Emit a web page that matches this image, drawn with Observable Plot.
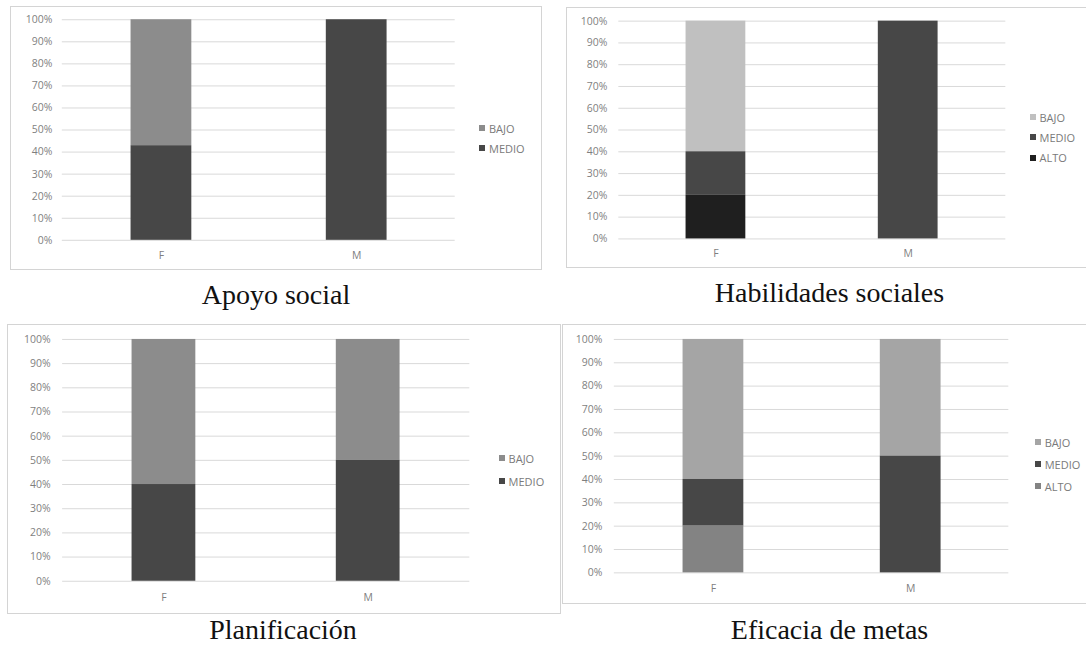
<!DOCTYPE html>
<html>
<head>
<meta charset="utf-8">
<script src="https://cdn.jsdelivr.net/npm/d3@7"></script>
<script src="https://cdn.jsdelivr.net/npm/@observablehq/plot@0.6"></script>
<style>
  html, body { margin: 0; padding: 0; background: #fff; }
  #page { position: relative; width: 1086px; height: 648px; overflow: hidden; background: #fff; }
  .panel { position: absolute; border: 1px solid #d4d4d4; box-sizing: border-box; background: #fff; overflow: visible; }
  .panel svg { position: absolute; left: -1px; top: -1px; overflow: visible; }
  .legend { position: absolute; font-family: "Open Sans", sans-serif; font-size: 11px; color: #7a7a7a; }
  .legend .item { display: flex; align-items: center; height: 14px; white-space: nowrap; }
  .legend .sw { width: 6px; height: 6px; margin-right: 4px; flex: none; }
  .title { position: absolute; width: 400px; text-align: center; font-family: "Liberation Serif", "DejaVu Serif", serif;
           font-size: 28px; line-height: 28px; color: #111; white-space: nowrap; }
</style>
</head>
<body>
<div id="page"></div>
<script>
// Sexo (categorías del eje x) y niveles de cada dimensión
const sexos = ["F", "M"];
const niveles = ["BAJO", "MEDIO", "ALTO"];
const ticksY = [0, 10, 20, 30, 40, 50, 60, 70, 80, 90, 100];

// Porcentajes por nivel, en el orden BAJO, MEDIO, ALTO
const apoyoSocialF = [57.1, 42.9, 0];
const apoyoSocialM = [0, 100, 0];
const habilidadesF = [60, 20, 20];
const habilidadesM = [0, 100, 0];
const planificacionF = [60, 40, 0];
const planificacionM = [50, 50, 0];
const eficaciaF = [60, 20, 20];
const eficaciaM = [50, 50, 0];

const titulos = ["Apoyo social", "Habilidades sociales", "Planificación", "Eficacia de metas"];
const leyendas = [["BAJO", "MEDIO"], ["BAJO", "MEDIO", "ALTO"], ["BAJO", "MEDIO"], ["BAJO", "MEDIO", "ALTO"]];

// Disposición y estilo de cada gráfico
const paneles = [
  { F: apoyoSocialF, M: apoyoSocialM, colores: ["#8c8c8c", "#474747", "#1f1f1f"],
    box: [10, 6, 532, 264], margin: [13.3, 85.6, 29.3, 52], pad: [0.688, 0.347], tickPadY: 10, tickPadX: 11,
    legend: [479, 128, 20], titleX: 276, titleTop: 281 },
  { F: habilidadesF, M: habilidadesM, colores: ["#c0c0c0", "#474747", "#1f1f1f"],
    box: [566, 7, 530, 261], margin: [13.7, 89, 28.7, 52.5], pad: [0.691, 0.347], tickPadY: 11.5, tickPadX: 11,
    legend: [1029.5, 117, 20.3], titleX: 829.5, titleTop: 279 },
  { F: planificacionF, M: planificacionM, colores: ["#8c8c8c", "#474747", "#1f1f1f"],
    box: [7, 324, 554, 290], margin: [15, 90, 32.3, 55.3], pad: [0.687, 0.34], tickPadY: 12, tickPadX: 12,
    legend: [498.6, 458, 23], titleX: 283, titleTop: 616 },
  { F: eficaciaF, M: eficaciaM, colores: ["#a5a5a5", "#474747", "#838383"],
    box: [562, 324, 534, 280], margin: [15, 86, 30.7, 52], pad: [0.693, 0.343], tickPadY: 12, tickPadX: 12,
    legend: [1034.7, 442, 22], titleX: 829.5, titleTop: 616 }
];

const page = document.getElementById("page");

paneles.forEach((p, k) => {
  // filas apiladas: sexo × nivel
  const filas = [];
  sexos.forEach(s => {
    p[s].forEach((v, i) => { if (v > 0) filas.push({ sexo: s, nivel: niveles[i], pct: v }); });
  });

  const [left, top, w, h] = p.box;
  const panel = document.createElement("div");
  panel.className = "panel";
  Object.assign(panel.style, { left: left + "px", top: top + "px", width: w + "px", height: h + "px" });

  const chart = Plot.plot({
    width: w,
    height: h,
    marginTop: p.margin[0],
    marginRight: p.margin[1],
    marginBottom: p.margin[2],
    marginLeft: p.margin[3],
    style: { fontFamily: "'Open Sans', sans-serif", fontSize: "10.5px", color: "#7f7f7f", background: "transparent" },
    x: { domain: sexos, paddingInner: p.pad[0], paddingOuter: p.pad[1], label: null },
    y: { domain: [0, 100], label: null },
    color: { domain: niveles, range: p.colores },
    marks: [
      Plot.ruleY(ticksY, { stroke: "#d9d9d9", strokeWidth: 1 }),
      Plot.barY(filas, { x: "sexo", y: "pct", fill: "nivel", order: ["ALTO", "MEDIO", "BAJO"] }),
      Plot.axisY(ticksY, { tickSize: 0, tickPadding: p.tickPadY, tickFormat: d => d + "%", label: null }),
      Plot.axisX({ tickSize: 0, tickPadding: p.tickPadX, label: null })
    ]
  });
  panel.appendChild(chart);
  page.appendChild(panel);

  // leyenda
  const [lx, ly, step] = p.legend;
  leyendas[k].forEach((nv, j) => {
    const lg = document.createElement("div");
    lg.className = "legend";
    Object.assign(lg.style, { left: lx + "px", top: (ly + j * step - 7) + "px" });
    const item = document.createElement("div");
    item.className = "item";
    const sw = document.createElement("span");
    sw.className = "sw";
    sw.style.background = p.colores[niveles.indexOf(nv)];
    const tx = document.createElement("span");
    tx.textContent = nv;
    item.appendChild(sw);
    item.appendChild(tx);
    lg.appendChild(item);
    page.appendChild(lg);
  });

  // título bajo cada gráfico
  const t = document.createElement("div");
  t.className = "title";
  t.textContent = titulos[k];
  Object.assign(t.style, { left: (p.titleX - 200) + "px", top: p.titleTop + "px" });
  page.appendChild(t);
});
</script>
</body>
</html>
